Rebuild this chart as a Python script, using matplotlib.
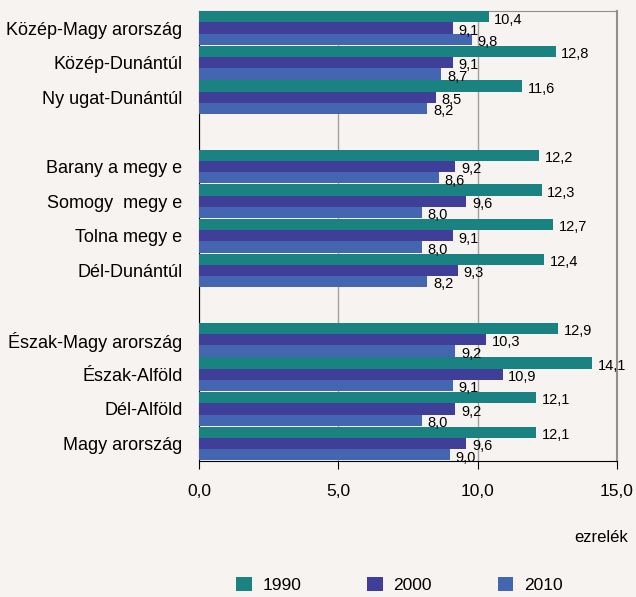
import matplotlib
matplotlib.use("Agg")
import matplotlib.pyplot as plt
import numpy as np

plt.rcParams['font.family'] = ['Liberation Sans', 'DejaVu Sans']

regions = ["Közép-Magy arország", "Közép-Dunántúl", "Ny ugat-Dunántúl",
           "Barany a megy e", "Somogy  megy e", "Tolna megy e", "Dél-Dunántúl",
           "Észak-Magy arország", "Észak-Alföld", "Dél-Alföld", "Magy arország"]
slots = [0, 1, 2, 4, 5, 6, 7, 9, 10, 11, 12]
v1990 = [10.4, 12.8, 11.6, 12.2, 12.3, 12.7, 12.4, 12.9, 14.1, 12.1, 12.1]
v2000 = [9.1, 9.1, 8.5, 9.2, 9.6, 9.1, 9.3, 10.3, 10.9, 9.2, 9.6]
v2010 = [9.8, 8.7, 8.2, 8.6, 8.0, 8.0, 8.2, 9.2, 9.1, 8.0, 9.0]
years = ["1990", "2000", "2010"]
colors = ["#1b8282", "#3f3f99", "#4466b0"]
xticks = [0, 5, 10, 15]

bg = "#f6f3f0"
fig = plt.figure(figsize=(6.36, 5.97), dpi=100, facecolor=bg)
ax = fig.add_axes([0.313, 0.228, 0.657, 0.754], facecolor=bg)

h = 0.325
pos = np.array(slots, dtype=float)
for k, (vals, col, yr) in enumerate(zip([v1990, v2000, v2010], colors, years)):
    y = pos + (k - 1) * h
    ax.barh(y, vals, height=h, color=col, label=yr, zorder=3)
    for yy, v in zip(y, vals):
        ax.text(v + 0.2, yy + 0.08, f"{v:.1f}".replace(".", ","), fontsize=10.5,
                va="center", ha="left", zorder=4)

ax.set_ylim(12.5, -0.5)
ax.set_xlim(0, 15)
ax.set_yticks(pos)
ax.set_yticklabels(regions, fontsize=13)
ax.tick_params(axis="y", length=0, pad=12)
ax.set_xticks(xticks)
ax.set_xticklabels([f"{t:.1f}".replace(".", ",") for t in xticks], fontsize=12.5)
ax.tick_params(axis="x", direction="out", length=6, pad=11)
ax.grid(axis="x", color="#a0a0a0", linewidth=1, zorder=0)
ax.spines["top"].set_color("#909090")
ax.spines["right"].set_color("#909090")
ax.spines["right"].set_linewidth(1.5)
ax.spines["left"].set_color("black")
ax.spines["bottom"].set_color("black")

fig.text(0.903, 0.1, "ezrelék", fontsize=12, ha="left", va="center")

fig.legend(loc="center", bbox_to_anchor=(0.628, 0.02), ncol=3, frameon=False,
           fontsize=12.5, handlelength=0.9, handleheight=0.9, columnspacing=3.8,
           handletextpad=0.6)

fig.savefig("out.png", dpi=100, facecolor=bg)
